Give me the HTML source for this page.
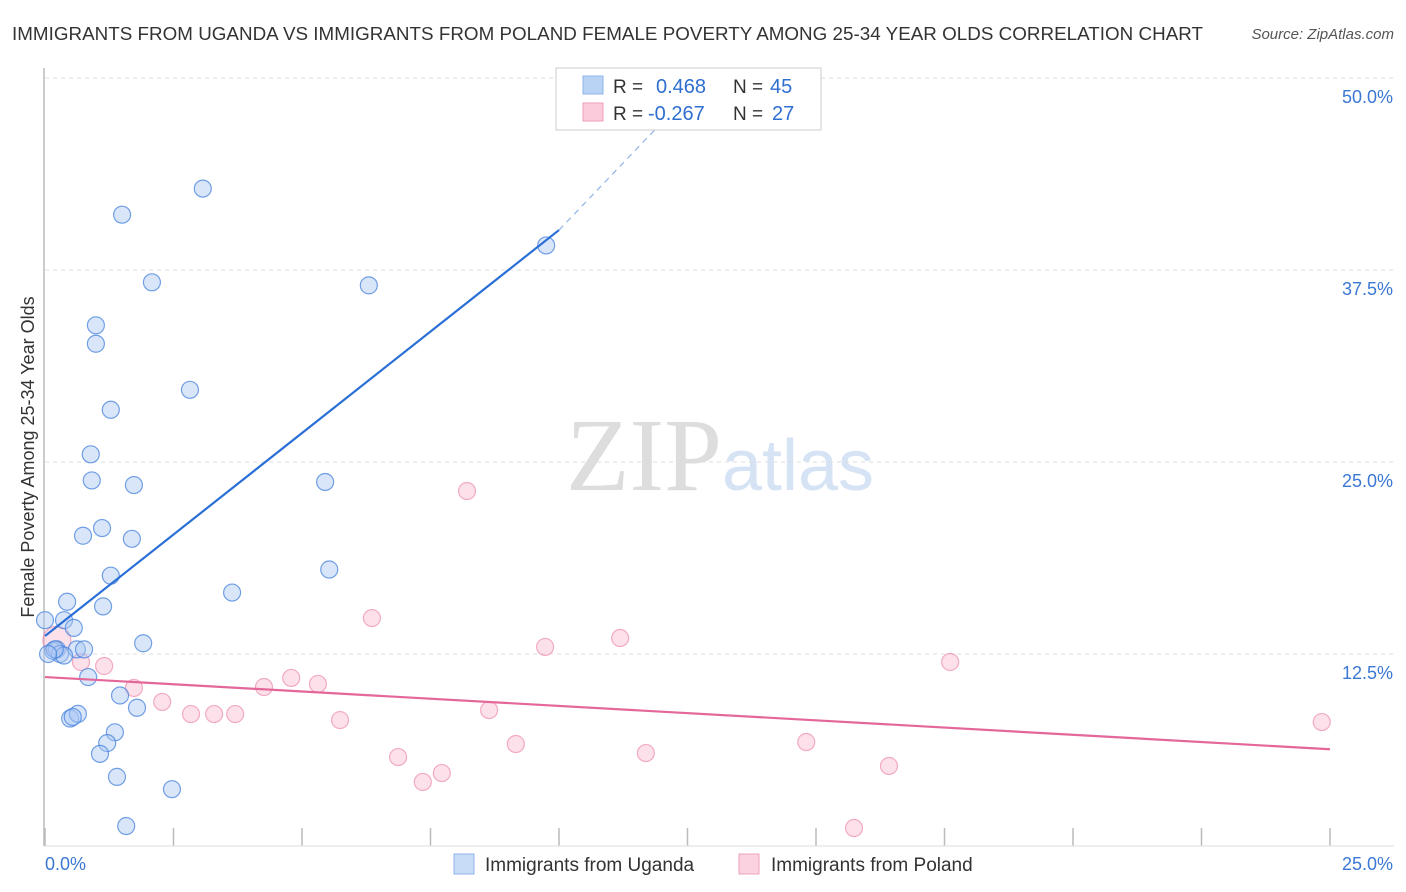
<!DOCTYPE html>
<html><head><meta charset="utf-8"><style>
body{margin:0;background:#fff;font-family:"Liberation Sans",sans-serif;}
svg{display:block}
</style></head><body>
<svg id="chart" width="1406" height="892" xmlns="http://www.w3.org/2000/svg" font-family="Liberation Sans, sans-serif">
<text x="12" y="40" font-size="18.8" fill="#333" textLength="1191">IMMIGRANTS FROM UGANDA VS IMMIGRANTS FROM POLAND FEMALE POVERTY AMONG 25-34 YEAR OLDS CORRELATION CHART</text>
<text x="1394" y="39" font-size="15" fill="#555" text-anchor="end" font-style="italic">Source: ZipAtlas.com</text>
<text x="720" y="490" font-size="104" text-anchor="middle" fill="#ddd" font-family="Liberation Serif, serif">ZIP<tspan fill="#d5e3f5" font-family="Liberation Sans, sans-serif" font-size="72">atlas</tspan></text>
<g id="grid"></g>
<g id="axes"></g>
<line x1="44" y1="68" x2="44" y2="846" stroke="#bbb" stroke-width="1.5"/>
<text transform="translate(34,457) rotate(-90)" font-size="18" fill="#333" text-anchor="middle">Female Poverty Among 25-34 Year Olds</text>
<g id="marks"></g>
<g>
<rect x="556" y="68" width="265" height="62" fill="#fff" stroke="#ccc"/>
<rect x="583" y="76" width="20" height="18" fill="#b9d3f5" stroke="#8fb3e8"/>
<rect x="583" y="103" width="20" height="18" fill="#fbcadb" stroke="#f0a0bb"/>
<text x="613" y="93" font-size="19" fill="#333">R =</text><text x="656" y="93" font-size="20" fill="#2f6fd0">0.468</text>
<text x="733" y="93" font-size="19" fill="#333">N =</text><text x="770" y="93" font-size="20" fill="#2f6fd0">45</text>
<text x="613" y="120" font-size="19" fill="#333">R =</text><text x="648" y="120" font-size="20" fill="#2f6fd0">-0.267</text>
<text x="733" y="120" font-size="19" fill="#333">N =</text><text x="772" y="120" font-size="20" fill="#2f6fd0">27</text>
</g>
<g>
<rect x="454" y="854" width="20" height="20" fill="#c8dcf7" stroke="#8fb3e8"/>
<text x="485" y="871" font-size="19" fill="#333">Immigrants from Uganda</text>
<rect x="739" y="854" width="20" height="20" fill="#fbd3e0" stroke="#f0a0bb"/>
<text x="771" y="871" font-size="19" fill="#333">Immigrants from Poland</text>
</g>
</svg>
<script>
const yTicks=[12.5,25,37.5,50];
const yTickLabels=["12.5%","25.0%","37.5%","50.0%"];
const xTicks=[0,2.5,5,7.5,10,12.5,15,17.5,20,22.5,25];
const ugandaX=[3.07,1.50,2.08,6.30,0.99,0.99,2.82,1.28,0.89,0.91,1.73,5.45,1.11,0.74,1.69,1.28,5.53,3.64,0.43,1.13,0.37,0.56,1.91,0.62,0.76,0.16,0.23,0.29,0.37,0.84,1.46,1.79,0.49,0.64,0.54,1.36,1.21,1.07,1.40,2.47,1.58,9.75,0.0,0.19,0.06];
const ugandaY=[42.8,41.1,36.7,36.5,33.9,32.7,29.7,28.4,25.5,23.8,23.5,23.7,20.7,20.2,20.0,17.6,18.0,16.5,15.9,15.6,14.7,14.2,13.2,12.8,12.8,12.7,12.8,12.5,12.4,11.0,9.8,9.0,8.3,8.6,8.4,7.4,6.7,6.0,4.5,3.7,1.3,39.1,14.7,12.8,12.5];
const polandX=[0.23,0.70,1.15,1.73,2.28,2.84,3.29,3.70,4.26,4.79,5.31,5.74,6.36,6.87,7.35,7.72,8.21,8.64,9.16,9.73,11.19,11.69,14.81,15.74,16.42,17.61,24.84];
const polandY=[13.4,11.98,11.72,10.29,9.38,8.59,8.59,8.59,10.35,10.94,10.55,8.2,14.84,5.79,4.17,4.75,23.11,8.85,6.64,12.96,13.54,6.05,6.77,1.17,5.21,11.98,8.07];
const ugandaLine=[[0,13.67],[10.0,40.1]];
const ugandaDash=[[10.0,40.1],[12.8,49.9]];
const polandLine=[[0,11.0],[25,6.3]];
const X0=45,X1=1330,Y0=846,Y50=78;
const sx=v=>X0+(v/25)*(X1-X0);
const sy=v=>Y0-(v/50)*(Y0-Y50);
const NS="http://www.w3.org/2000/svg";
function mk(tag,attrs,parent){const e=document.createElementNS(NS,tag);for(const k in attrs)e.setAttribute(k,attrs[k]);parent.appendChild(e);return e;}
const grid=document.getElementById('grid'),axes=document.getElementById('axes'),marks=document.getElementById('marks');
yTicks.forEach((t,i)=>{
 const l=mk('line',{x1:45,x2:1394,y1:sy(t),y2:sy(t),stroke:'#ddd','stroke-dasharray':'4,4'},grid);
 
 
 const tx=mk('text',{x:1393,y:sy(t)+25,'font-size':18,fill:'#3a78d4','text-anchor':'end'},axes);
 tx.textContent=yTickLabels[i];
 
 
});
xTicks.forEach(t=>{
 const l=mk('line',{x1:sx(t),x2:sx(t),y1:828,y2:846,stroke:'#bbb','stroke-width':1.5},axes);
 
 
});
const bl=mk('line',{x1:44,x2:1394,y1:846,y2:846,stroke:'#ddd'},axes);


const xl0=mk('text',{x:45,y:870,'font-size':18,fill:'#3a78d4'},axes);xl0.textContent='0.0%';


const xl1=mk('text',{x:1393,y:870,'font-size':18,fill:'#3a78d4','text-anchor':'end'},axes);xl1.textContent='25.0%';


polandX.forEach((x,i)=>{
 const c=mk('circle',{cx:sx(x),cy:sy(polandY[i]),r:i==0?14:8.5,fill:'rgba(248,180,205,0.4)',stroke:'rgba(236,140,175,0.7)','stroke-width':1.2},marks);
 
 
});
ugandaX.forEach((x,i)=>{
 const c=mk('circle',{cx:sx(x),cy:sy(ugandaY[i]),r:8.5,fill:'rgba(170,200,245,0.45)',stroke:'rgba(70,130,220,0.75)','stroke-width':1.2},marks);
 
 
});
const l1=mk('line',{x1:sx(ugandaLine[0][0]),y1:sy(ugandaLine[0][1]),x2:sx(ugandaLine[1][0]),y2:sy(ugandaLine[1][1]),stroke:'#2a6fd6','stroke-width':2.2},marks);


const l2=mk('line',{x1:sx(ugandaDash[0][0]),y1:sy(ugandaDash[0][1]),x2:sx(ugandaDash[1][0]),y2:sy(ugandaDash[1][1]),stroke:'#8fb3e8','stroke-width':1.2,'stroke-dasharray':'6,5'},marks);


const l3=mk('line',{x1:sx(polandLine[0][0]),y1:sy(polandLine[0][1]),x2:sx(polandLine[1][0]),y2:sy(polandLine[1][1]),stroke:'#e4679a','stroke-width':2.2},marks);


</script>
</body></html>
